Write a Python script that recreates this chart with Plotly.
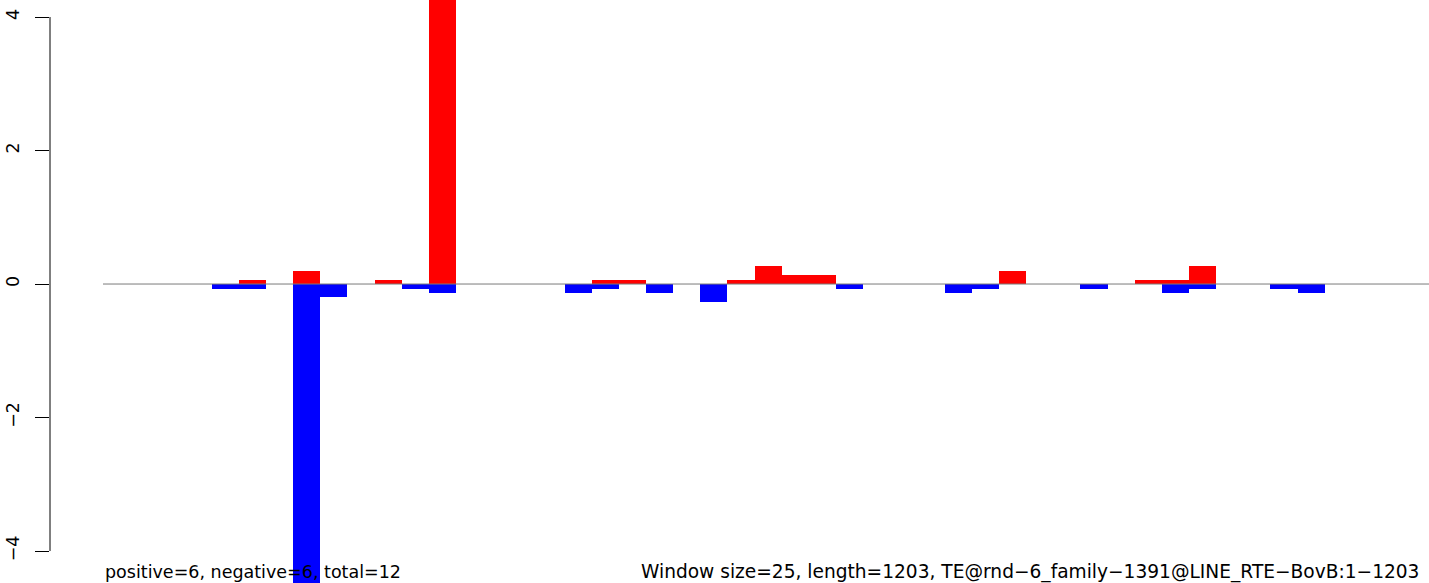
import plotly.graph_objects as go

# one bar per 25-bp window (49 windows over length 1203)
windows = list(range(49))

pos_vals = [0, 0, 0, 0, 0, 0.067, 0, 0.2, 0, 0,
            0.067, 0, 4.6, 0, 0, 0, 0, 0, 0.067, 0.067,
            0, 0, 0, 0.067, 0.267, 0.133, 0.133, 0, 0, 0,
            0, 0, 0, 0.2, 0, 0, 0, 0, 0.067, 0.067,
            0.267, 0, 0, 0, 0, 0, 0, 0, 0]

neg_vals = [0, 0, 0, 0, -0.067, -0.067, 0, -4.6, -0.2, 0,
            0, -0.067, -0.133, 0, 0, 0, 0, -0.133, -0.067, 0,
            -0.133, 0, -0.267, 0, 0, 0, 0, -0.067, 0, 0,
            0, -0.133, -0.067, 0, 0, 0, -0.067, 0, 0, -0.133,
            -0.067, 0, 0, -0.067, -0.133, 0, 0, 0, 0]

ytick_vals = [-4, -2, 0, 2, 4]
ytick_text = ["\u22124", "\u22122", "0", "2", "4"]

left_label = "positive=6, negative=6, total=12"
right_label = "Window size=25, length=1203, TE@rnd\u22126_family\u22121391@LINE_RTE\u2212BovB:1\u22121203"

FONT = "DejaVu Sans"
FS = 17.5

xc = [w + 0.5 for w in windows]

fig = go.Figure()
fig.add_trace(go.Bar(x=xc, y=pos_vals, width=1, marker=dict(color="#ff0000", line=dict(width=0)),
                     showlegend=False, hoverinfo="skip"))
fig.add_trace(go.Bar(x=xc, y=neg_vals, width=1, marker=dict(color="#0000ff", line=dict(width=0)),
                     showlegend=False, hoverinfo="skip"))

# zero line across the windows
fig.add_shape(type="line", xref="x", yref="y", x0=0, x1=len(windows), y0=0, y1=0,
              line=dict(color="#7a7a7a", width=1), layer="above")
# R style axis line spanning only the tick range
fig.add_shape(type="line", xref="paper", yref="y", x0=0, x1=0, y0=-4, y1=4,
              line=dict(color="black", width=1), layer="above")

fig.add_annotation(text=left_label, xref="paper", yref="paper", x=(103 - 50) / 1379, y=1 - 572 / 583,
                   xanchor="left", yanchor="middle", showarrow=False,
                   font=dict(family=FONT, size=FS, color="black"))
fig.add_annotation(text=right_label, xref="paper", yref="paper", x=(639 - 50) / 1379, y=1 - 572 / 583,
                   xanchor="left", yanchor="middle", showarrow=False,
                   font=dict(family=FONT, size=18.6, color="black"))

fig.update_layout(
    width=1429, height=583,
    margin=dict(l=50, r=0, t=0, b=0),
    paper_bgcolor="white", plot_bgcolor="white",
    barmode="overlay", bargap=0,
    font=dict(family=FONT, size=FS, color="black"),
    xaxis=dict(visible=False, range=[-53 / 27.15, 1326 / 27.15]),
    yaxis=dict(range=[-4.479, 4.255], tickvals=ytick_vals, ticktext=ytick_text,
               ticks="outside", ticklen=14, tickwidth=1, tickcolor="black",
               tickangle=-90, showgrid=False, zeroline=False, showline=False,
               ticklabelstandoff=9),
)

# drop the browser's default page margin so the figure sits at the corner
fig.write_html("out.html", config={"displayModeBar": False},
               post_script="document.body.style.margin='0';")
